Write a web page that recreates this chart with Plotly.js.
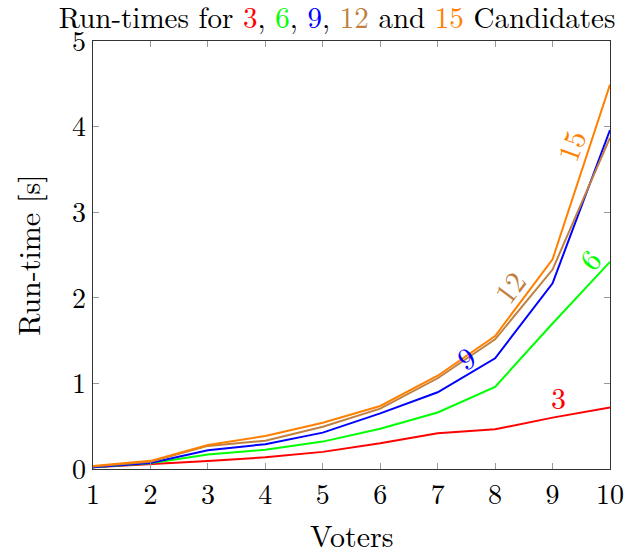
<!DOCTYPE html>
<html>
<head>
<meta charset="utf-8">
<script src="https://cdn.plot.ly/plotly-3.0.1.min.js"></script>
<style>html,body{margin:0;padding:0;background:#fff;}#chart{width:630px;height:549px;}</style>
</head>
<body>
<div id="chart"></div>
<script>
var voters = [1, 2, 3, 4, 5, 6, 7, 8, 9, 10];
var time3  = [0.02, 0.055, 0.093, 0.136, 0.20, 0.30, 0.417, 0.464, 0.60, 0.72];
var time6  = [0.02, 0.066, 0.17, 0.225, 0.32, 0.47, 0.66, 0.96, 1.70, 2.42];
var time9  = [0.02, 0.07, 0.22, 0.29, 0.425, 0.65, 0.896, 1.293, 2.17, 3.96];
var time12 = [0.03, 0.085, 0.27, 0.33, 0.494, 0.705, 1.06, 1.515, 2.33, 3.87];
var time15 = [0.035, 0.095, 0.28, 0.385, 0.54, 0.736, 1.09, 1.554, 2.45, 4.49];
var seriesNames = ['3', '6', '9', '12', '15'];
var seriesColors = ['#ff0000', '#00ff00', '#0000ff', '#bf8040', '#ff8000'];
var seriesData = [time3, time6, time9, time12, time15];
var labelX = [9.11, 9.63, 7.49, 8.24, 9.30];
var labelY = [0.85, 2.46, 1.31, 2.13, 3.78];
var labelAngle = [0, -50, -31, -53, -70];
var xTicks = [1, 2, 3, 4, 5, 6, 7, 8, 9, 10];
var yTicks = [0, 1, 2, 3, 4, 5];
var xTitle = 'Voters';
var yTitle = 'Run-time [s]';

var font = "'Latin Modern Roman', 'CMU Serif', 'DejaVu Serif', serif";

var traces = seriesData.map(function (d, i) {
  return {x: voters, y: d, mode: 'lines', type: 'scatter', name: seriesNames[i],
    line: {color: seriesColors[i], width: 2}, showlegend: false, hoverinfo: 'none'};
});

var annotations = seriesNames.map(function (n, i) {
  return {x: labelX[i], y: labelY[i], xref: 'x', yref: 'y', text: n, showarrow: false,
    textangle: labelAngle[i], font: {family: font, size: 30, color: seriesColors[i]}};
});
annotations.push({x: 0.5, y: -0.154, xref: 'paper', yref: 'paper', text: xTitle, showarrow: false,
  xanchor: 'center', yanchor: 'middle', font: {family: font, size: 30, color: '#000'}});
annotations.push({x: -0.128, y: 0.5, xref: 'paper', yref: 'paper', text: yTitle, showarrow: false,
  textangle: -90, xanchor: 'center', yanchor: 'middle', font: {family: font, size: 30, color: '#000'}});

var titleText = 'Run-times for ' + seriesNames.map(function (n, i) {
  return '<span style="color:' + seriesColors[i] + '">' + n + '</span>';
}).reduce(function (acc, s, i, arr) {
  if (i === 0) return s;
  if (i === arr.length - 1) return acc + ' and ' + s;
  return acc + ', ' + s;
}, '') + ' Candidates';

var axisCommon = {
  showgrid: false, zeroline: false, showline: true, linecolor: '#333', linewidth: 1.3,
  mirror: 'ticks', ticks: 'inside', ticklen: 6, tickcolor: '#999', tickwidth: 1.2,
  tickfont: {family: font, size: 28, color: '#000'}
};

var layout = {
  width: 630, height: 549,
  margin: {l: 93, r: 20, t: 41, b: 80},
  paper_bgcolor: '#fff', plot_bgcolor: '#fff',
  font: {family: font, color: '#000'},
  title: {text: titleText, x: 0.535, xref: 'container', xanchor: 'center', y: 0.968, yanchor: 'middle',
    font: {family: font, size: 29, color: '#000'}},
  xaxis: Object.assign({}, axisCommon, {range: [1, 10], tickvals: xTicks}),
  yaxis: Object.assign({}, axisCommon, {range: [0, 5], tickvals: yTicks}),
  annotations: annotations
};

Plotly.newPlot('chart', traces, layout, {displayModeBar: false, staticPlot: true});
</script>
</body>
</html>
